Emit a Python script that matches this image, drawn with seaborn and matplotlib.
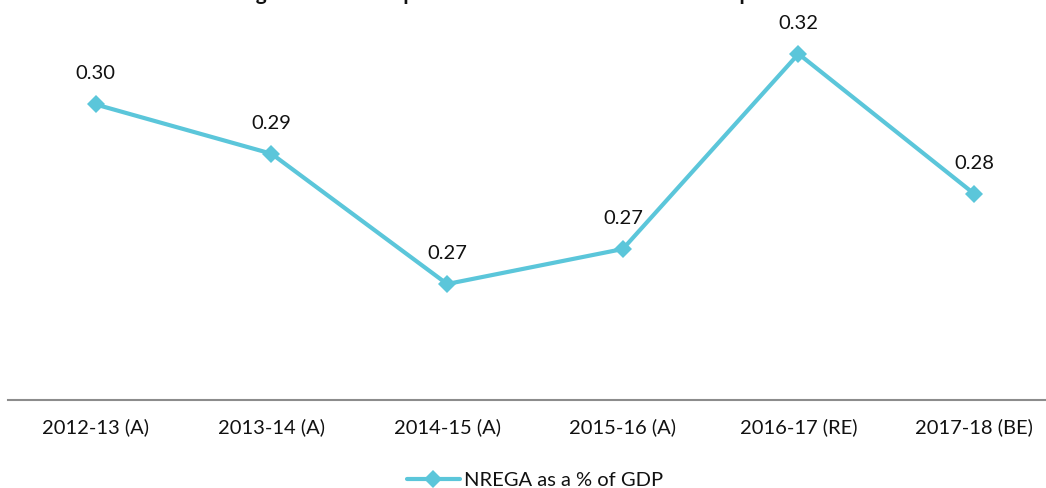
import seaborn as sns
import matplotlib.pyplot as plt
import pandas as pd

# Data
years = ["2012-13 (A)", "2013-14 (A)", "2014-15 (A)", "2015-16 (A)", "2016-17 (RE)", "2017-18 (BE)"]
nrega_pct_gdp = [0.3042, 0.2935, 0.2652, 0.2728, 0.3152, 0.2848]
series_name = "NREGA as a % of GDP"
title_text = "Change in NREGA expenditure as a share of GDP in each period"

df = pd.DataFrame({"year": years, "value": nrega_pct_gdp})

sns.set_theme(style="white")
plt.rcParams["font.family"] = ["Lato", "DejaVu Sans"]

line_color = "#5BC6DA"
text_color = "#111111"

fig = plt.figure(figsize=(10.46, 4.88), dpi=100)
# plot area runs past the top and right edges, as in the cropped reference
ax = fig.add_axes([8 / 1046, 88 / 488, 1054 / 1046, 400 / 488])

sns.lineplot(data=df, x="year", y="value", ax=ax, color=line_color, linewidth=3,
             marker="D", markersize=9, markeredgewidth=0, sort=False, label=series_name)

ax.set_xlim(-0.5, len(years) - 0.5)
ax.set_ylim(0.24, 0.3269)

# data labels above each point
for i, v in enumerate(nrega_pct_gdp):
    ax.annotate(f"{v:.2f}", (i, v), xytext=(0, 22), textcoords="offset points",
                ha="center", va="center", fontsize=14.5, color=text_color)

for side in ["left", "top", "right"]:
    ax.spines[side].set_visible(False)
ax.spines["bottom"].set_color("#8c8c8c")
ax.spines["bottom"].set_linewidth(1.5)
ax.set_yticks([])
ax.tick_params(axis="x", length=0, pad=13, labelsize=14.5, labelcolor=text_color)
ax.set_xlabel("")
ax.set_ylabel("")

ax.get_legend().remove()
handles, labels = ax.get_legend_handles_labels()
fig.legend(handles, labels, loc="center", bbox_to_anchor=(535 / 1046, 1 - 480 / 488),
           frameon=False, fontsize=14.5, handlelength=2.6, handletextpad=0.2,
           labelcolor=text_color)

# title sits above the canvas; only its descenders show, as in the reference
fig.text(208 / 1046, 1.0, title_text, ha="left", va="baseline",
         fontsize=15, fontweight="bold", color=text_color)

fig.savefig("out.png", dpi=100)
